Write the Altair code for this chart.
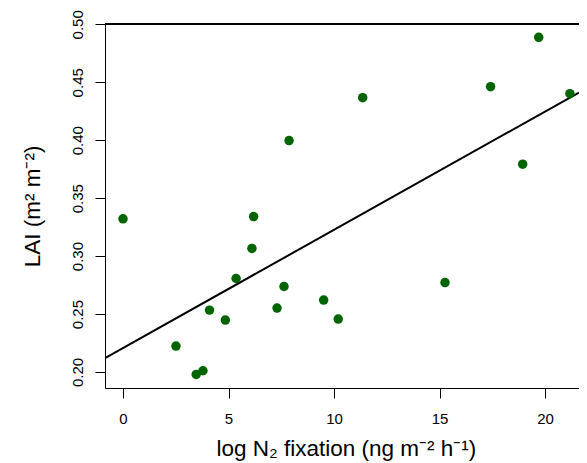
import altair as alt
import pandas as pd

# Data
n2_fix = [0.0, 6.19, 6.11, 5.36, 7.63, 7.30, 9.51, 10.20, 4.10, 4.85,
          2.51, 3.47, 3.79, 15.26, 7.87, 11.36, 17.42, 19.70, 21.18, 18.94]
lai = [0.3322, 0.3341, 0.3066, 0.2807, 0.2738, 0.2552, 0.2621, 0.2457, 0.2534, 0.2448,
       0.2224, 0.1979, 0.2011, 0.2772, 0.3997, 0.4367, 0.4462, 0.4888, 0.4402, 0.3793]

x_ticks = [0, 5, 10, 15, 20]
y_ticks = [0.20, 0.25, 0.30, 0.35, 0.40, 0.45, 0.50]

x_domain = [-0.853, 21.61]
y_domain = [0.1862, 0.5003]

W, H = 474, 364
FONT = "Liberation Sans"

df = pd.DataFrame({"x": n2_fix, "y": lai})

xscale = alt.Scale(domain=x_domain, nice=False, zero=False)
yscale = alt.Scale(domain=y_domain, nice=False, zero=False)

x_axis = alt.Axis(
    values=x_ticks, grid=False, domainColor="black", domainWidth=1,
    tickColor="black", tickSize=10, tickWidth=1,
    labelFont=FONT, labelFontSize=15, labelColor="black", labelPadding=13.5,
    labelFlush=False, labelOverlap=False,
    title="log N\u2082 fixation (ng m\u207b\u00b2 h\u207b\u00b9)",
    titleFont=FONT, titleFontSize=22.5, titleFontWeight="normal", titleColor="black",
    titleX=240.8, titleY=67.5, titleAlign="center", titleBaseline="alphabetic",
)
y_axis = alt.Axis(
    values=y_ticks, grid=False, domainColor="black", domainWidth=1,
    tickColor="black", tickSize=10, tickWidth=1, format=".2f",
    labelFont=FONT, labelFontSize=15, labelColor="black", labelPadding=12.7,
    labelAngle=270, labelAlign="center", labelBaseline="alphabetic",
    labelFlush=False, labelOverlap=False,
    title="LAI (m\u00b2 m\u207b\u00b2)",
    titleFont=FONT, titleFontSize=22.5, titleFontWeight="normal", titleColor="black",
    titleX=-65.4, titleY=182, titleAngle=270, titleAlign="center", titleBaseline="alphabetic",
)

base = alt.Chart(df)

points = base.mark_circle(size=90, color="#006400", opacity=1).encode(
    x=alt.X("x:Q", scale=xscale, axis=x_axis),
    y=alt.Y("y:Q", scale=yscale, axis=y_axis),
)

fit = base.transform_regression("x", "y", extent=x_domain).mark_line(
    color="black", strokeWidth=2, clip=True
).encode(
    x=alt.X("x:Q", scale=xscale),
    y=alt.Y("y:Q", scale=yscale),
)

top_rule = alt.Chart(df).mark_rule(color="black", strokeWidth=1).encode(
    x=alt.value(0), x2=alt.value(W), y=alt.value(0)
)

chart = alt.layer(fit, points, top_rule).properties(
    width=W, height=H,
    autosize=alt.AutoSizeParams(type="none"),
    padding={"left": 97, "top": 16, "right": 0, "bottom": 73},
).configure_view(stroke=None).configure(background="white")

chart.save("out.html", embed_options={"renderer": "svg", "actions": False})
